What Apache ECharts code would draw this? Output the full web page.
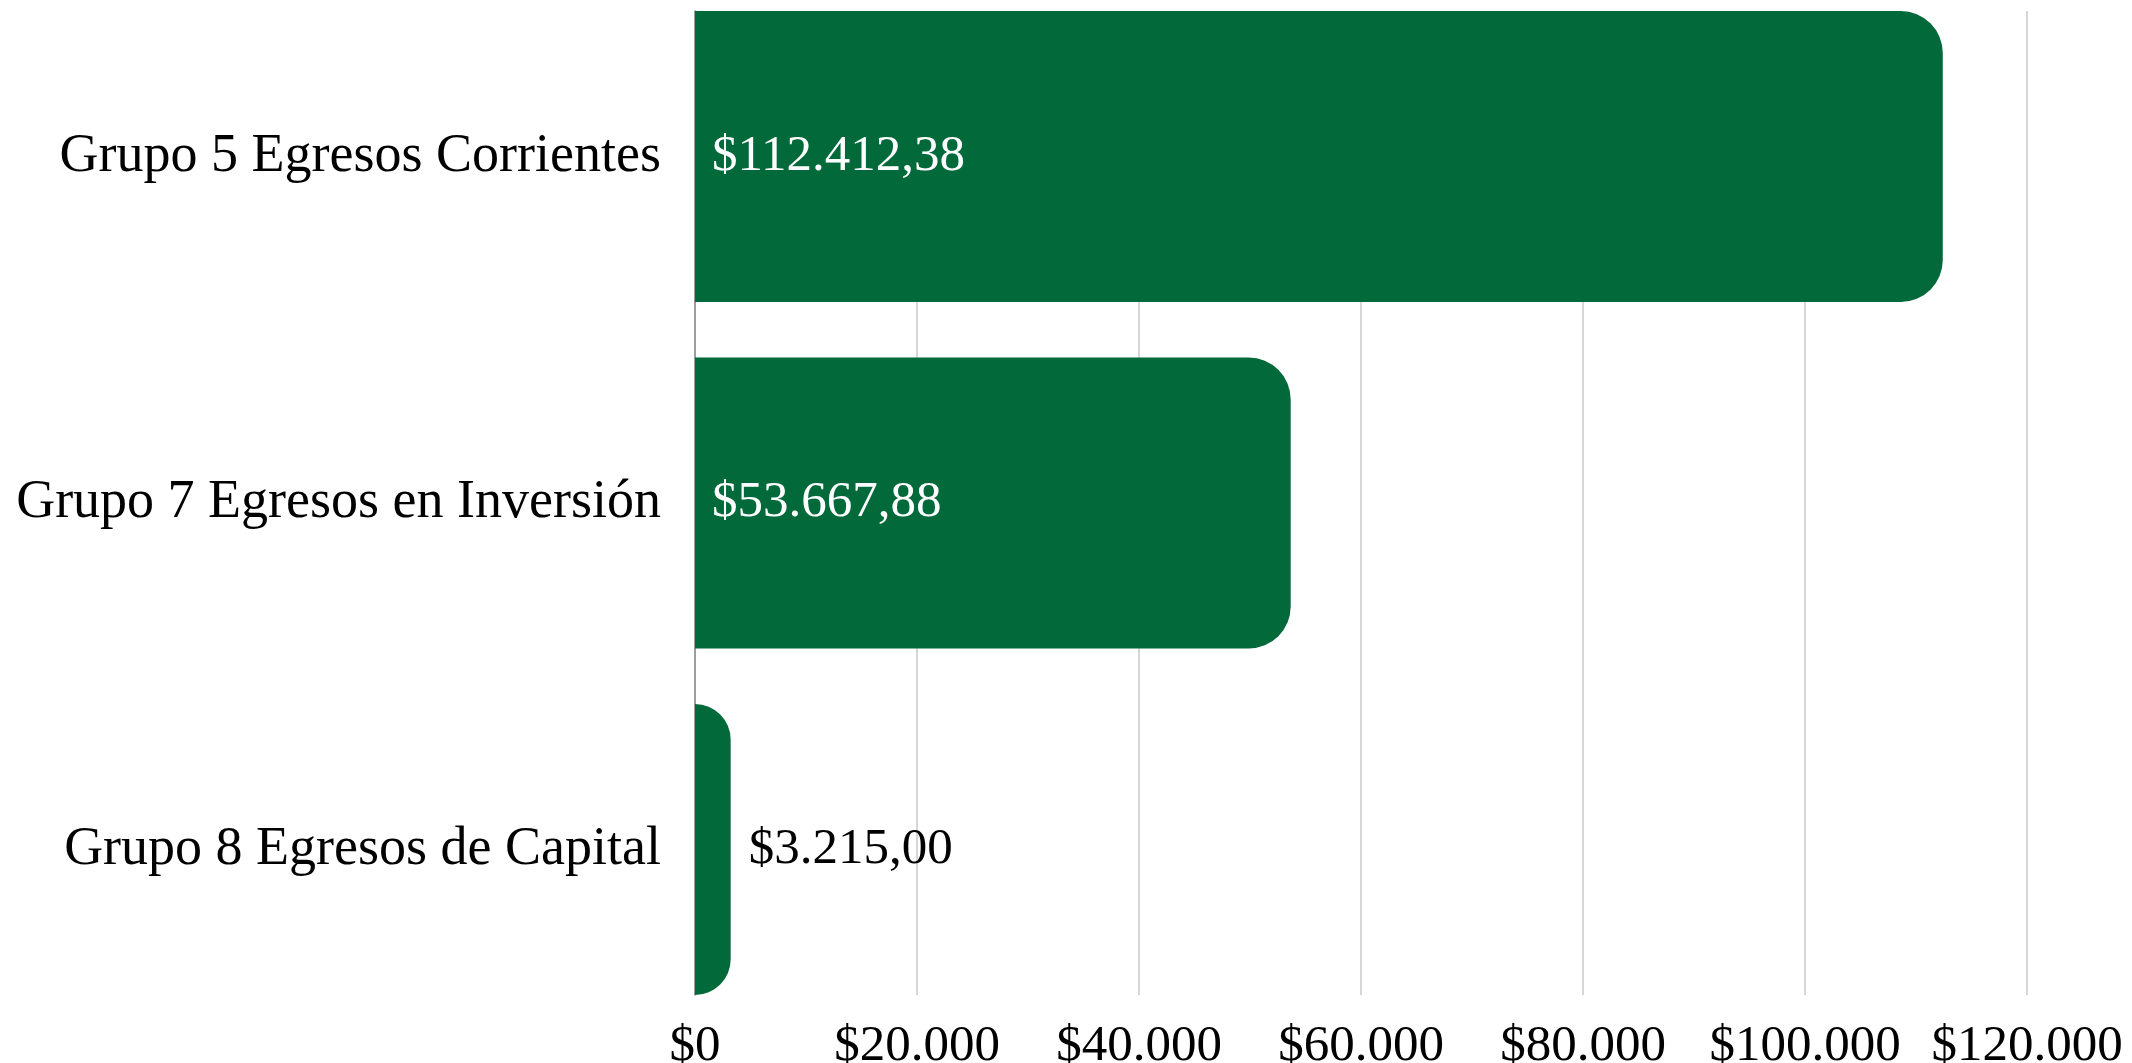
<!DOCTYPE html>
<html lang="es">
<head>
<meta charset="UTF-8">
<title>Egresos por grupo</title>
<script src="https://cdn.jsdelivr.net/npm/echarts@6/dist/echarts.min.js"></script>
</head>
<body style="height: 100%; margin: 0">
<div id="container" style="width:2132px;height:1063px"></div>
<script type="text/javascript">
    // datos del grafico
    var categorias = ['Grupo 5 Egresos Corrientes', 'Grupo 7 Egresos en Inversión', 'Grupo 8 Egresos de Capital'];
    var valores = [112412.38, 53667.88, 3215.00];
    var ejeMin = 0, ejeMax = 120000, ejeIntervalo = 20000;

    var fuente = "'Liberation Serif', 'Times New Roman', serif";
    var verde = '#02693a';

    // formato $112.412,38
    function dinero(v, dec) {
        var partes = v.toFixed(dec).split('.');
        var entero = partes[0].replace(/\B(?=(\d{3})+(?!\d))/g, '.');
        return '$' + entero + (dec > 0 ? ',' + partes[1] : '');
    }

    var datos = valores.map(function (v) {
        var dentro = v > 20000;
        return {
            value: v,
            label: {
                position: dentro ? 'insideLeft' : 'right',
                distance: dentro ? 17 : 18,
                color: dentro ? '#ffffff' : '#000000'
            }
        };
    });

    var myChart = echarts.init(document.getElementById('container'));
    var option = {
        backgroundColor: '#ffffff',
        animation: false,
        grid: [
            // rejilla visible (lineas y etiquetas del eje)
            {left: 695, right: 105, top: 11, bottom: 68, outerBoundsMode: 'none'},
            // barras, un poco mas alto para que las barras toquen los bordes
            {left: 695, right: 105, top: -16.75, height: 1039.5, outerBoundsMode: 'none'}
        ],
        xAxis: [
            {
                gridIndex: 0, type: 'value', min: ejeMin, max: ejeMax, interval: ejeIntervalo,
                axisLine: {show: false}, axisTick: {show: false},
                splitLine: {show: true, lineStyle: {color: '#c9c9c9', width: 1.5}},
                axisLabel: {
                    fontFamily: fuente, fontSize: 51, color: '#000', margin: 26,
                    formatter: function (v) { return dinero(v, 0); }
                }
            },
            {gridIndex: 1, type: 'value', min: ejeMin, max: ejeMax, show: false}
        ],
        yAxis: [
            {
                gridIndex: 0, type: 'category', data: categorias, inverse: true,
                axisLine: {show: true, lineStyle: {color: '#8a8a8a', width: 1.5}},
                axisTick: {show: false}, axisLabel: {show: false}, splitLine: {show: false}
            },
            {
                gridIndex: 1, type: 'category', data: categorias, inverse: true,
                axisLine: {show: false}, axisTick: {show: false},
                axisLabel: {fontFamily: fuente, fontSize: 54, color: '#000', margin: 34}
            }
        ],
        series: [{
            type: 'bar',
            xAxisIndex: 1,
            yAxisIndex: 1,
            data: datos,
            barWidth: 291,
            itemStyle: {color: verde, borderRadius: [0, 42, 42, 0]},
            label: {
                show: true,
                fontFamily: fuente,
                fontSize: 51,
                formatter: function (p) { return dinero(p.value, 2); }
            }
        }]
    };
    myChart.setOption(option);
</script>
</body>
</html>
